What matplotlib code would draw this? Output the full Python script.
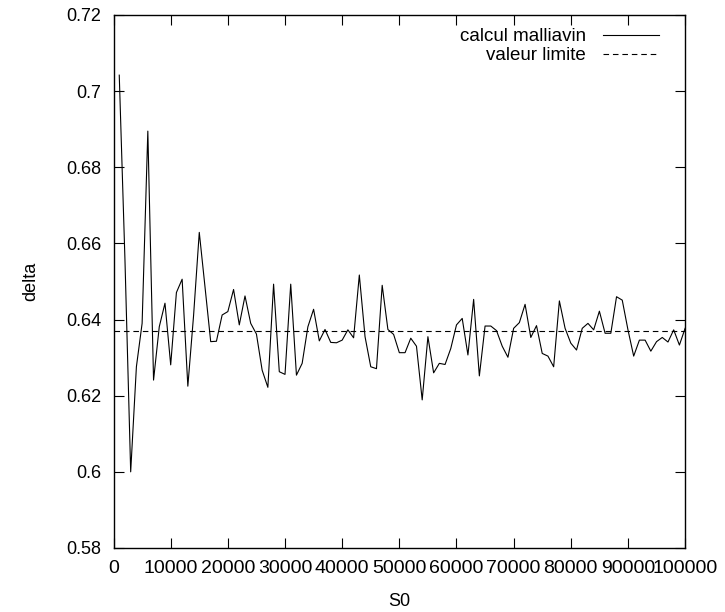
import numpy as np
import matplotlib
matplotlib.use("Agg")
import matplotlib.pyplot as plt

plt.rcParams['font.family'] = ['Liberation Sans', 'DejaVu Sans']

# S0 from 1000 to 100000, step 1000
s0 = np.arange(1000, 100001, 1000)
delta = [
    0.7042, 0.6556, 0.6000, 0.6276, 0.6390, 0.6895, 0.6241, 0.6381, 0.6443, 0.6281,
    0.6471, 0.6506, 0.6225, 0.6410, 0.6629, 0.6486, 0.6342, 0.6343, 0.6412, 0.6421,
    0.6479, 0.6386, 0.6462, 0.6390, 0.6362, 0.6267, 0.6222, 0.6493, 0.6263, 0.6256,
    0.6493, 0.6254, 0.6285, 0.6381, 0.6427, 0.6344, 0.6374, 0.6340, 0.6339, 0.6346,
    0.6373, 0.6352, 0.6517, 0.6355, 0.6276, 0.6271, 0.6490, 0.6374, 0.6361, 0.6313,
    0.6313, 0.6351, 0.6330, 0.6189, 0.6355, 0.6260, 0.6285, 0.6282, 0.6324, 0.6386,
    0.6403, 0.6307, 0.6453, 0.6252, 0.6383, 0.6383, 0.6371, 0.6330, 0.6301, 0.6377,
    0.6392, 0.6440, 0.6353, 0.6384, 0.6311, 0.6304, 0.6276, 0.6449, 0.6377, 0.6338,
    0.6320, 0.6377, 0.6390, 0.6373, 0.6422, 0.6364, 0.6364, 0.6460, 0.6451, 0.6373,
    0.6304, 0.6346, 0.6346, 0.6317, 0.6342, 0.6353, 0.6341, 0.6373, 0.6333, 0.6377,
]
limite = 0.637

xticks = np.arange(0, 100001, 10000)
yticks = [0.58, 0.6, 0.62, 0.64, 0.66, 0.68, 0.7, 0.72]
ytick_labels = ['0.58', '0.6', '0.62', '0.64', '0.66', '0.68', '0.7', '0.72']

fig = plt.figure(figsize=(7.25, 6.12), dpi=100)
ax = fig.add_axes([0.1566, 0.1046, 0.945 - 0.1566, 0.9755 - 0.1046])

ax.plot(s0, delta, color='black', lw=0.8, label='calcul malliavin')
ax.axhline(limite, color='black', lw=0.8, ls=(0, (5, 3.5)), label='valeur limite')

ax.set_xlim(0, 100000)
ax.set_ylim(0.58, 0.72)
ax.set_xticks(xticks)
ax.set_xticklabels([str(v) for v in xticks], fontsize=14)
ax.set_yticks(yticks)
ax.set_yticklabels(ytick_labels, fontsize=13)
ax.tick_params(direction='in', length=7, width=0.8, top=True, right=True, pad=9)
for sp in ax.spines.values():
    sp.set_linewidth(1.0)

ax.set_xlabel('S0', fontsize=13, labelpad=11)
ax.set_ylabel('delta', fontsize=13, labelpad=19)

ax.legend(loc='upper right', frameon=False, markerfirst=False, fontsize=13.5,
          handlelength=3.0, handletextpad=0.9, labelspacing=0.1,
          borderaxespad=0.3, bbox_to_anchor=(0.977, 1.0))

fig.savefig('out.png', dpi=100)
